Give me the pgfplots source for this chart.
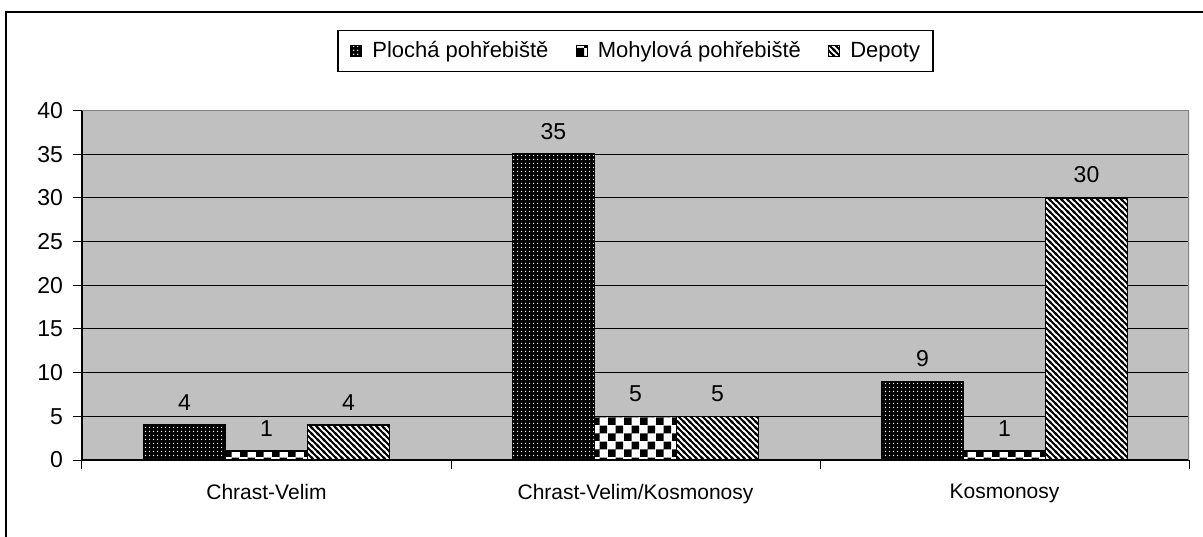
\documentclass[border=0pt]{standalone}
\usepackage{pgfplots}
\pgfplotsset{compat=1.18}
\usetikzlibrary{patterns}
\usepackage{fontspec}
\setmainfont{Liberation Sans}

\definecolor{plotgray}{HTML}{C0C0C0}
\definecolor{edgegray}{HTML}{808080}

% fill patterns of the three series
\pgfdeclarepatternformonly{finedots}{\pgfqpoint{0pt}{0pt}}{\pgfqpoint{2pt}{2pt}}{\pgfqpoint{2pt}{2pt}}{%
  \pgfpathcircle{\pgfqpoint{1pt}{1pt}}{0.45pt}\pgfusepath{fill}}
\pgfdeclarepatternformonly{bigchecker}{\pgfqpoint{0pt}{0pt}}{\pgfqpoint{8pt}{8pt}}{\pgfqpoint{8pt}{8pt}}{%
  \pgfpathrectangle{\pgfqpoint{0pt}{0pt}}{\pgfqpoint{4pt}{4pt}}%
  \pgfpathrectangle{\pgfqpoint{4pt}{4pt}}{\pgfqpoint{4pt}{4pt}}%
  \pgfusepath{fill}}
\pgfdeclarepatternformonly{backlines}{\pgfqpoint{-1pt}{-1pt}}{\pgfqpoint{4pt}{4pt}}{\pgfqpoint{3pt}{3pt}}{%
  \pgfsetlinewidth{0.9pt}%
  \pgfpathmoveto{\pgfqpoint{-0.5pt}{3.5pt}}\pgfpathlineto{\pgfqpoint{3.5pt}{-0.5pt}}%
  \pgfpathmoveto{\pgfqpoint{-0.5pt}{0.5pt}}\pgfpathlineto{\pgfqpoint{0.5pt}{-0.5pt}}%
  \pgfpathmoveto{\pgfqpoint{2.5pt}{3.5pt}}\pgfpathlineto{\pgfqpoint{3.5pt}{2.5pt}}%
  \pgfusepath{stroke}}

\newcommand{\numfont}{\fontsize{11.5}{13}\selectfont}
\newcommand{\catfont}{\fontsize{10.5}{12.5}\selectfont}

\begin{document}
\begin{tikzpicture}
\useasboundingbox (-41pt,-38pt) rectangle (560.5pt,230pt);
\fill[white] (-41pt,-38pt) rectangle (560.5pt,230pt);
\draw[line width=1pt] (-38pt,-45pt) |- (570pt,224pt);
\begin{axis}[at={(0,0)}, anchor=south west, scale only axis,
  width=553.5pt, height=174.75pt,
  xmin=-0.5, xmax=2.5, ymin=0, ymax=40,
  ybar=0pt, bar width=41pt,
  /pgf/number format/assume math mode=true,
  axis x line*=bottom, axis y line*=left,
  axis line style={black, line width=0.7pt},
  axis background/.style={fill=plotgray},
  ymajorgrids, grid style={black, line width=0.5pt},
  ytick={0,5,...,40},
  xtick={-0.5,0.5,1.5,2.5}, xticklabels={},
  extra x ticks={0,1,2},
  extra x tick labels={Chrast-Velim, Chrast-Velim/Kosmonosy, Kosmonosy},
  extra x tick style={major tick length=0pt},
  tick align=outside, major tick length=4.5pt,
  tick style={black, line width=0.5pt},
  yticklabel style={font=\numfont, xshift=-1.5pt},
  xticklabel style={font=\catfont, yshift=-8.5pt},
  every axis plot/.append style={draw=black, line width=0.8pt},
  nodes near coords, nodes near coords style={font=\numfont, black, yshift=3.7pt},
  legend columns=3,
  legend image code/.code={\draw[#1, line width=0.7pt] (0pt,-2.75pt) rectangle (5.5pt,2.75pt);},
  legend style={at={(0.5,1)}, anchor=south, yshift=19pt, draw=black, fill=white,
    line width=0.6pt, font=\fontsize{11}{13}\selectfont, inner xsep=6pt, inner ysep=5pt,
    nodes={inner sep=0.5pt},
    /tikz/every odd column/.append style={column sep=4.5pt},
    /tikz/every even column/.append style={column sep=13pt}},
]
\addplot[fill=black, postaction={pattern=finedots, pattern color=white}]
  coordinates {(0,4) (1,35) (2,9)};
\addlegendentry{Plochá pohřebiště}
\addplot[fill=white, postaction={pattern=bigchecker, pattern color=black}]
  coordinates {(0,1) (1,5) (2,1)};
\addlegendentry{Mohylová pohřebiště}
\addplot[fill=white, postaction={pattern=backlines, pattern color=black}]
  coordinates {(0,4) (1,5) (2,30)};
\addlegendentry{Depoty}
\draw[edgegray, line width=1pt] (rel axis cs:0,1) -- (rel axis cs:1,1) -- (rel axis cs:1,0);
\end{axis}
\end{tikzpicture}
\end{document}
